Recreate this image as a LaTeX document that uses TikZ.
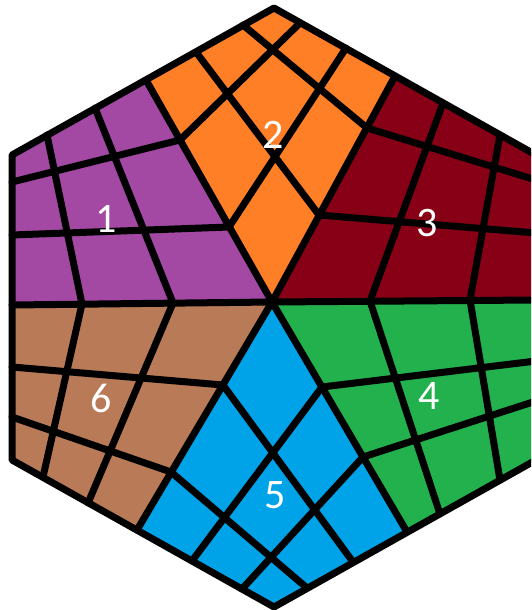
\documentclass[tikz,border=0pt]{standalone}
\usepackage{fontspec}
\setmainfont{Carlito}
\definecolor{paintpurple}{RGB}{163,73,164}
\definecolor{paintorange}{RGB}{255,127,39}
\definecolor{paintred}{RGB}{136,0,21}
\definecolor{paintgreen}{RGB}{34,177,76}
\definecolor{paintblue}{RGB}{0,162,232}
\definecolor{paintbrown}{RGB}{185,122,87}
\tikzset{
  gridline/.style = {line width=3.5pt, line cap=round, line join=round},
  num/.style = {text=white, font=\fontsize{21}{21}\selectfont, inner sep=0pt}
}

\begin{document}
\begin{tikzpicture}[x=0.5pt,y=-0.5pt]
\clip (0,0) rectangle (531,610);
% corners, centre and edge midpoints
\coordinate (c) at (272,302);
\coordinate (t) at (274,8);
\coordinate (ur) at (536,155);
\coordinate (lr) at (536,460);
\coordinate (b) at (274,607);
\coordinate (ll) at (12,460);
\coordinate (ul) at (12,155);
\coordinate (mtl) at (146,80);
\coordinate (mtr) at (395,76);
\coordinate (ml) at (12,305);
\coordinate (mr) at (536,300);
\coordinate (mbl) at (137,530);
\coordinate (mbr) at (407,532);
% points on the spokes (1 = outer, 2 = inner)
\coordinate (tl1) at (180,140);  \coordinate (tl2) at (229,227);
\coordinate (tr1) at (367,128);  \coordinate (tr2) at (319,215);
\coordinate (l1) at (82,304);    \coordinate (l2) at (173,303);
\coordinate (r1) at (470,300);   \coordinate (r2) at (370,301);
\coordinate (bl1) at (171,472);  \coordinate (bl2) at (223,385);
\coordinate (br1) at (363,457);  \coordinate (br2) at (322,387);
% points on the border
\coordinate (ta1) at (243,25);   \coordinate (ta2) at (196,52);
\coordinate (tb1) at (300,23);   \coordinate (tb2) at (346,48);
\coordinate (ula1) at (47,135);  \coordinate (ula2) at (95,108);
\coordinate (ulb1) at (12,182);  \coordinate (ulb2) at (12,235);
\coordinate (lla1) at (12,417);  \coordinate (lla2) at (12,367);
\coordinate (llb1) at (43,477);  \coordinate (llb2) at (88,503);
\coordinate (ba1) at (242,589);  \coordinate (ba2) at (192,561);
\coordinate (bb1) at (307,588);  \coordinate (bb2) at (353,562);
\coordinate (lra1) at (500,480); \coordinate (lra2) at (440,514);
\coordinate (lrb1) at (536,401); \coordinate (lrb2) at (536,361);
\coordinate (ura1) at (500,135); \coordinate (ura2) at (443,103);
\coordinate (urb1) at (536,180); \coordinate (urb2) at (536,233);

% sectors
\fill[paintpurple] (c) -- (ml) -- (ul) -- (mtl) -- cycle;
\fill[paintorange] (c) -- (mtl) -- (t) -- (mtr) -- cycle;
\fill[paintred] (c) -- (mtr) -- (ur) -- (mr) -- cycle;
\fill[paintgreen] (c) -- (mr) -- (lr) -- (mbr) -- cycle;
\fill[paintblue] (c) -- (mbr) -- (b) -- (mbl) -- cycle;
\fill[paintbrown] (c) -- (mbl) -- (ll) -- (ml) -- cycle;

% grid of each sector
\draw[gridline] (ta1) -- (tr1);  \draw[gridline] (ta2) -- (tr2);
\draw[gridline] (tb1) -- (tl1);  \draw[gridline] (tb2) -- (tl2);
\draw[gridline] (ula1) -- (l1);  \draw[gridline] (ula2) -- (l2);
\draw[gridline] (ulb1) -- (tl1); \draw[gridline] (ulb2) -- (tl2);
\draw[gridline] (lla1) -- (bl1); \draw[gridline] (lla2) -- (bl2);
\draw[gridline] (llb1) -- (l1);  \draw[gridline] (llb2) -- (l2);
\draw[gridline] (ba1) -- (br1);  \draw[gridline] (ba2) -- (br2);
\draw[gridline] (bb1) -- (bl1);  \draw[gridline] (bb2) -- (bl2);
\draw[gridline] (lra1) -- (r1);  \draw[gridline] (lra2) -- (r2);
\draw[gridline] (lrb1) -- (br1); \draw[gridline] (lrb2) -- (br2);
\draw[gridline] (ura1) -- (r1);  \draw[gridline] (ura2) -- (r2);
\draw[gridline] (urb1) -- (tr1); \draw[gridline] (urb2) -- (tr2);

% spokes and outline
\foreach \m in {mtl,mtr,ml,mr,mbl,mbr}
  \draw[gridline] (c) -- (\m);
\draw[gridline] (t) -- (ur) -- (lr) -- (b) -- (ll) -- (ul) -- cycle;

% numbers
\node[num] (n1) at (106,219) {1};
\node[num] (n2) at (273,135) {2};
\node[num] (n3) at (427,223) {3};
\node[num] (n4) at (429,396) {4};
\node[num] (n5) at (275,495) {5};
\node[num] (n6) at (101,398) {6};
\end{tikzpicture}
\end{document}
